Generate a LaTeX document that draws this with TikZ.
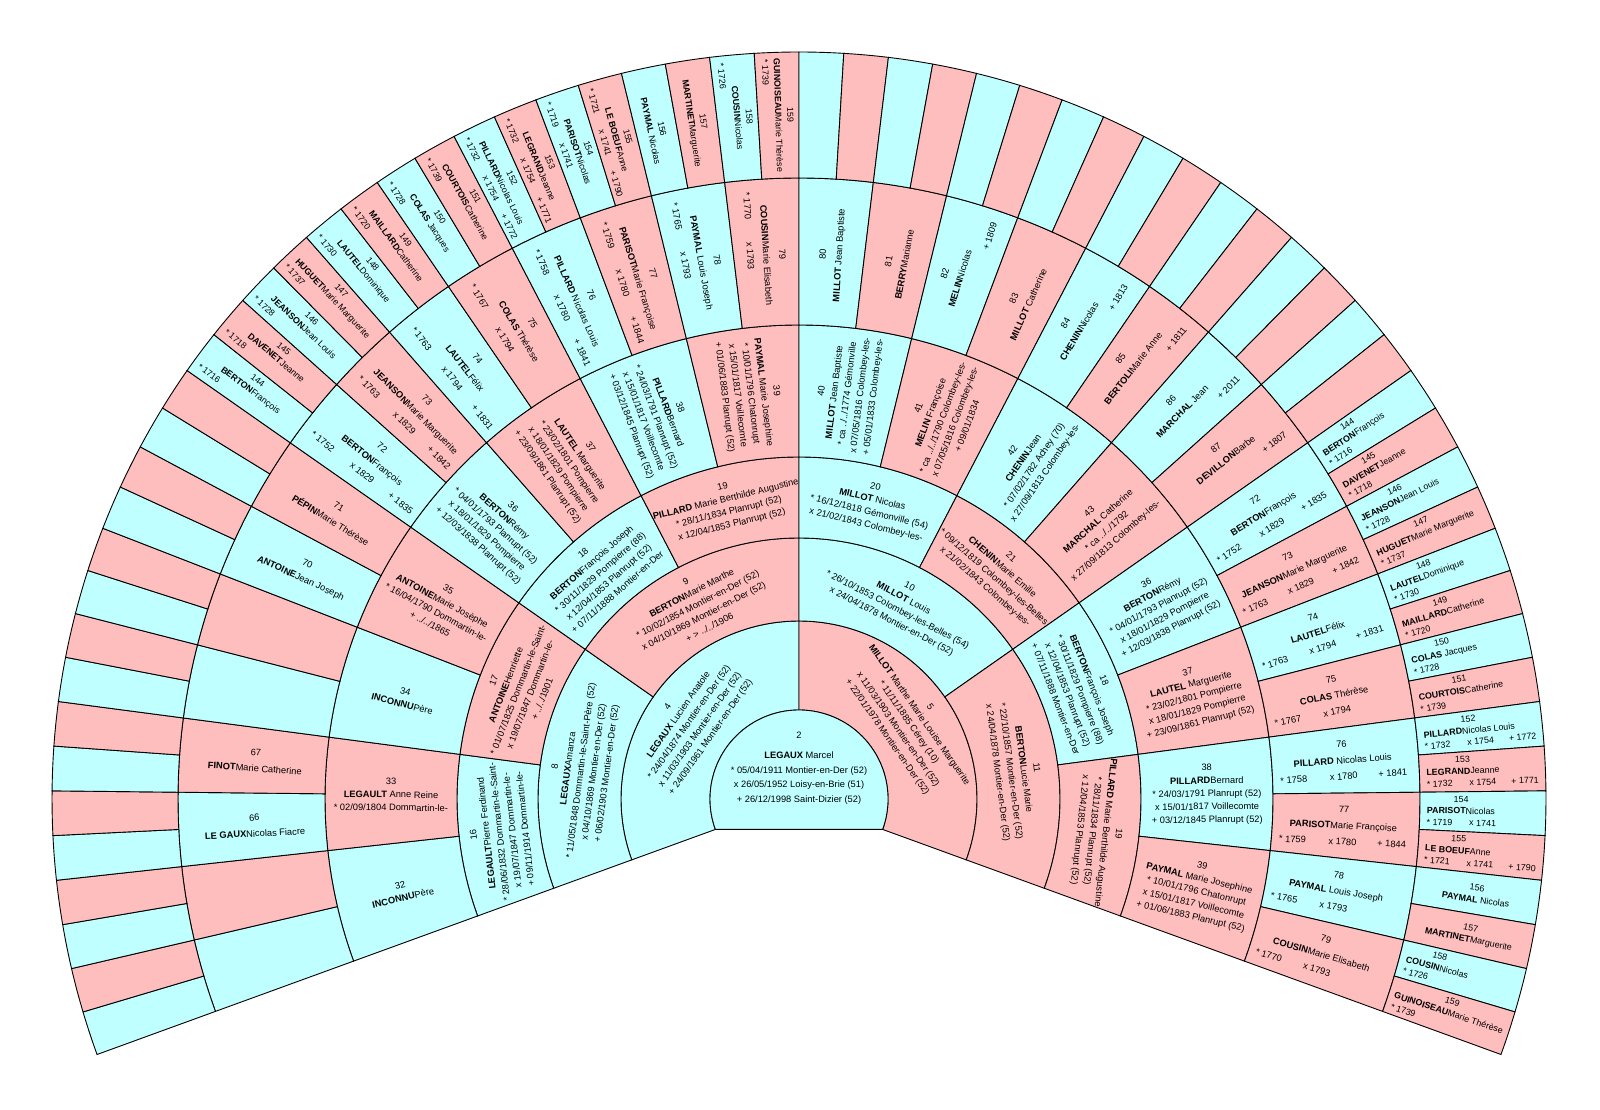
\documentclass[tikz,border=0pt]{standalone}
\usepackage{fontspec}
\setmainfont{Liberation Sans}
\definecolor{cy}{RGB}{192,255,255}
\definecolor{pk}{RGB}{255,190,190}
\newcommand\nm[2]{\textbf{#1}#2}
\newcommand\nms[2]{\textbf{#1} #2}
\newcommand\drow[4]{\hbox to #1{\rlap{#2}\hss\hbox to 0pt{\hss #3\hss}\hss\llap{#4}}}
\newcommand\TanL[4]{\node[lbl,rotate={110-(#3+0.5)*#1}] (#4) at ({200-(#3+0.5)*#1}:#2)}
\newcommand\TanR[4]{\node[lbl,rotate={-(#3+0.5)*#1}] (#4) at ({90-(#3+0.5)*#1}:#2)}
\newcommand\RadL[4]{\node[lbl,rotate={20-(#3+0.5)*#1}] (#4) at ({200-(#3+0.5)*#1}:#2)}
\newcommand\RadR[4]{\node[lbl,rotate={90-(#3+0.5)*#1}] (#4) at ({90-(#3+0.5)*#1}:#2)}
\newcommand\PairThree[3]{\TanL{27.5}{301.5}{#1}{L#2}{#3};\TanR{27.5}{301.5}{#1}{R#2}{#3};}
\newcommand\PairFour[3]{\RadL{13.75}{408}{#1}{L#2}{#3};\RadR{13.75}{408}{#1}{R#2}{#3};}
\newcommand\FivePair[6]{\RadL{6.875}{545}{#1}{L#2}{#2\\#3\\\drow{63.5pt}{#4}{#5}{#6}};\RadR{6.875}{545}{#1}{R#2}{#2\\#3\\\drow{63.5pt}{#4}{#5}{#6}};}
\newcommand\SixPair[6]{\RadL{3.4375}{684}{#1}{L#2}{#2\\#3\\\drow{56pt}{#4}{#5}{#6}};\RadR{3.4375}{684}{#1}{R#2}{\begin{tabular}{@{}l@{}}\begin{tabular}[b]{@{}c@{}}#2\\#3\end{tabular}\\\drow{56pt}{#4}{#5}{#6}\end{tabular}};}
\newcommand\SixPairN[3]{\RadL{3.4375}{684}{#1}{L#2}{#2\\#3};\RadR{3.4375}{684}{#1}{R#2}{#2\\#3};}
\newcommand\TxEighteen{18\\\nm{BERTON}{François Joseph}\\{*} 30/11/1829 Pompierre (88)\\x 12/04/1853 Planrupt (52)\\+ 07/11/1888 Montier-en-Der}
\newcommand\TxNineteen{19\\\nms{PILLARD}{Marie Berthilde Augustine}\\{*} 28/11/1834 Planrupt (52)\\x 12/04/1853 Planrupt (52)}
\begin{document}
\begin{tikzpicture}[x=0.5pt,y=0.5pt,
  lbl/.style={align=center,inner sep=0pt,font=\fontsize{4.65}{6.5}\selectfont},
  cellline/.style={draw=black,line width=0.45pt}]
\fill[white] (0,0) rectangle (1600,1109);
\useasboundingbox (0,0) rectangle (1600,1109);
\begin{scope}[shift={(799,310)}]
% cells
\foreach \ri/\ro/\N in {89/178/2,178/261/4,261/342/8,342/474/16,474/621/32,621/747/64}{
  \pgfmathsetmacro\w{220/\N}
  \pgfmathtruncatemacro\M{\N-1}
  \foreach \j in {0,...,\M}{
    \pgfmathsetmacro\a{200-\j*\w}
    \pgfmathsetmacro\b{200-(\j+1)*\w}
    \ifodd\j \def\cc{pk}\else\def\cc{cy}\fi
    \filldraw[fill=\cc,cellline] (\a:\ri) arc[start angle=\a,end angle=\b,radius=\ri] -- (\b:\ro) arc[start angle=\b,end angle=\a,radius=\ro] -- cycle;
  }
}
\filldraw[fill=cy,cellline] (-20:89) arc[start angle=-20,end angle=200,radius=89] -- cycle;
% centre
\node[lbl,font=\fontsize{4.65}{7.3}\selectfont] (c2) at (0,31) {2\\[3pt]\nms{LEGAUX}{Marcel}\\{*} 05/04/1911 Montier-en-Der (52)\\x 26/05/1952 Loisy-en-Brie (51)\\+ 26/12/1998 Saint-Dizier (52)};
% ring 1
\TanL{110}{133.5}{0}{L4}{4\\\nms{LEGAUX}{Lucien Anatole}\\{*} 24/04/1874 Montier-en-Der (52)\\x 11/03/1903 Montier-en-Der (52)\\+ 24/09/1961 Montier-en-Der (52)};
\TanR{110}{133.5}{0}{R5}{5\\\nms{MILLOT}{Marthe Marie Louise Marguerite}\\{*} 11/11/1885 Cérey (10)\\x 11/03/1903 Montier-en-Der (52)\\+ 22/01/1978 Montier-en-Der (52)};
% ring 2
\TanL{55}{219.5}{0}{L8}{8\\\nm{LEGAUX}{Amanza}\\{*} 11/05/1848 Dommartin-le-Saint-Père (52)\\x 04/10/1869 Montier-en-Der (52)\\+ 06/02/1903 Montier-en-Der (52)};
\TanL{55}{219.5}{1}{L9}{9\\\nm{BERTON}{Marie Marthe}\\{*} 10/02/1854 Montier-en-Der (52)\\x 04/10/1869 Montier-en-Der (52)\\+ > ../../1906};
\TanR{55}{219.5}{0}{R10}{10\\\nms{MILLOT}{Louis}\\{*} 26/10/1853 Colombey-les-Belles (54)\\x 24/04/1878 Montier-en-Der (52)};
\TanR{55}{219.5}{1}{R11}{11\\\nm{BERTON}{Lucie Marie}\\{*} 22/10/1857 Montier-en-Der (52)\\x 24/04/1878 Montier-en-Der (52)};
% ring 3
\TanL{27.5}{301.5}{0}{L16}{16\\\nm{LEGAULT}{Pierre Ferdinand}\\{*} 28/06/1832 Dommartin-le-Saint-\\x 19/07/1847 Dommartin-le-\\+ 09/11/1914 Dommartin-le-};
\TanL{27.5}{301.5}{1}{L17}{17\\\nm{ANTOINE}{Henriette}\\{*} 01/07/1825 Dommartin-le-Saint-\\x 19/07/1847 Dommartin-le-\\+ ../../1901};
\PairThree{2}{18}{\TxEighteen}
\PairThree{3}{19}{\TxNineteen}
\TanR{27.5}{301.5}{0}{R20}{20\\\nms{MILLOT}{Nicolas}\\{*} 16/12/1818 Gémonville (54)\\x 21/02/1843 Colombey-les-};
\TanR{27.5}{301.5}{1}{R21}{21\\\nm{CHENIN}{Marie Emilie}\\{*} 09/12/1819 Colombey-les-Belles\\x 21/02/1843 Colombey-les-};
% ring 4
\RadL{13.75}{408}{0}{L32}{32\\\nm{INCONNU}{Père}};
\RadL{13.75}{408}{1}{L33}{33\\\nms{LEGAULT}{Anne Reine}\\{*} 02/09/1804 Dommartin-le-};
\RadL{13.75}{408}{2}{L34}{34\\\nm{INCONNU}{Père}};
\RadL{13.75}{408}{3}{L35}{35\\\nm{ANTOINE}{Marie Josèphe}\\{*} 16/04/1790 Dommartin-le-\\+ ../../1865};
\PairFour{4}{36}{36\\\nm{BERTON}{Rémy}\\{*} 04/01/1793 Planrupt (52)\\x 18/01/1829 Pompierre\\+ 12/03/1838 Planrupt (52)}
\PairFour{5}{37}{37\\\nms{LAUTEL}{Marguerite}\\{*} 23/02/1801 Pompierre\\x 18/01/1829 Pompierre\\+ 23/09/1861 Planrupt (52)}
\PairFour{6}{38}{38\\\nm{PILLARD}{Bernard}\\{*} 24/03/1791 Planrupt (52)\\x 15/01/1817 Voillecomte\\+ 03/12/1845 Planrupt (52)}
\PairFour{7}{39}{39\\\nms{PAYMAL}{Marie Josephine}\\{*} 10/01/1796 Chatonrupt\\x 15/01/1817 Voillecomte\\+ 01/06/1883 Planrupt (52)}
\RadR{13.75}{408}{0}{R40}{40\\\nms{MILLOT}{Jean Baptiste}\\{*} ca ../../1774 Gémonville\\x 07/05/1816 Colombey-les-\\+ 05/01/1833 Colombey-les-};
\RadR{13.75}{408}{1}{R41}{41\\\nms{MELIN}{Françoise}\\{*} ca ../../1790 Colombey-les-\\x 07/05/1816 Colombey-les-\\+ 09/01/1834};
\RadR{13.75}{408}{2}{R42}{42\\\nm{CHENIN}{Jean}\\{*} 07/02/1782 Achey (70)\\x 27/09/1813 Colombey-les-};
\RadR{13.75}{408}{3}{R43}{43\\\nms{MARCHAL}{Catherine}\\{*} ca ../../1792\\x 27/09/1813 Colombey-les-};
% ring 5
\begin{scope}[lbl/.append style={font=\fontsize{4.65}{8}\selectfont}]
\RadL{6.875}{545}{2}{L66}{66\\\nm{LE GAUX}{Nicolas Fiacre}};
\RadL{6.875}{545}{3}{L67}{67\\\nm{FINOT}{Marie Catherine}};
\RadL{6.875}{545}{6}{L70}{70\\\nm{ANTOINE}{Jean Joseph}};
\RadL{6.875}{545}{7}{L71}{71\\\nm{PÉPIN}{Marie Thérèse}};
\FivePair{8}{72}{\nm{BERTON}{François}}{{*} 1752}{x 1829}{+ 1835}
\FivePair{9}{73}{\nm{JEANSON}{Marie Marguerite}}{{*} 1763}{x 1829}{+ 1842}
\FivePair{10}{74}{\nm{LAUTEL}{Félix}}{{*} 1763}{x 1794}{+ 1831}
\FivePair{11}{75}{\nms{COLAS}{Thérèse}}{{*} 1767}{x 1794}{}
\FivePair{12}{76}{\nms{PILLARD}{Nicolas Louis}}{{*} 1758}{x 1780}{+ 1841}
\FivePair{13}{77}{\nm{PARISOT}{Marie Françoise}}{{*} 1759}{x 1780}{+ 1844}
\FivePair{14}{78}{\nms{PAYMAL}{Louis Joseph}}{{*} 1765}{x 1793}{}
\FivePair{15}{79}{\nm{COUSIN}{Marie Elisabeth}}{{*} 1770}{x 1793}{}
\RadR{6.875}{545}{0}{R80}{80\\\nms{MILLOT}{Jean Baptiste}};
\RadR{6.875}{545}{1}{R81}{81\\\nm{BERRY}{Marianne}};
\RadR{6.875}{545}{2}{R82}{82\\\nm{MELIN}{Nicolas}\\\drow{63.5pt}{}{}{+ 1809}};
\RadR{6.875}{545}{3}{R83}{83\\\nms{MILLOT}{Catherine}};
\RadR{6.875}{545}{4}{R84}{84\\\nm{CHENIN}{Nicolas}\\\drow{63.5pt}{}{}{+ 1813}};
\RadR{6.875}{545}{5}{R85}{85\\\nm{BERTOLI}{Marie Anne}\\\drow{63.5pt}{}{}{+ 1811}};
\RadR{6.875}{545}{6}{R86}{86\\\nms{MARCHAL}{Jean}\\\drow{63.5pt}{}{}{+ 2011}};
\RadR{6.875}{545}{7}{R87}{87\\\nm{DEVILLON}{Barbe}\\\drow{63.5pt}{}{}{+ 1807}};
\end{scope}
% ring 6
\begin{scope}[lbl/.append style={font=\fontsize{4.45}{5.9}\selectfont}]
\SixPair{16}{144}{\nm{BERTON}{François}}{{*} 1716}{}{}
\SixPair{17}{145}{\nm{DAVENET}{Jeanne}}{{*} 1718}{}{}
\SixPair{18}{146}{\nm{JEANSON}{Jean Louis}}{{*} 1728}{}{}
\SixPair{19}{147}{\nm{HUGUET}{Marie Marguerite}}{{*} 1737}{}{}
\SixPair{20}{148}{\nm{LAUTEL}{Dominique}}{{*} 1730}{}{}
\SixPair{21}{149}{\nm{MAILLARD}{Catherine}}{{*} 1720}{}{}
\SixPair{22}{150}{\nms{COLAS}{Jacques}}{{*} 1728}{}{}
\SixPair{23}{151}{\nm{COURTOIS}{Catherine}}{{*} 1739}{}{}
\SixPair{24}{152}{\nm{PILLARD}{Nicolas Louis}}{{*} 1732}{x 1754}{+ 1772}
\SixPair{25}{153}{\nm{LEGRAND}{Jeanne}}{{*} 1732}{x 1754}{+ 1771}
\SixPair{26}{154}{\nm{PARISOT}{Nicolas}}{{*} 1719}{x 1741}{}
\SixPair{27}{155}{\nm{LE BOEUF}{Anne}}{{*} 1721}{x 1741}{+ 1790}
\SixPairN{28}{156}{\nms{PAYMAL}{Nicolas}}
\SixPairN{29}{157}{\nm{MARTINET}{Marguerite}}
\SixPair{30}{158}{\nm{COUSIN}{Nicolas}}{{*} 1726}{}{}
\SixPair{31}{159}{\nm{GUINOISEAU}{Marie Thérèse}}{{*} 1739}{}{}
\end{scope}
\end{scope}
\end{tikzpicture}
\end{document}
